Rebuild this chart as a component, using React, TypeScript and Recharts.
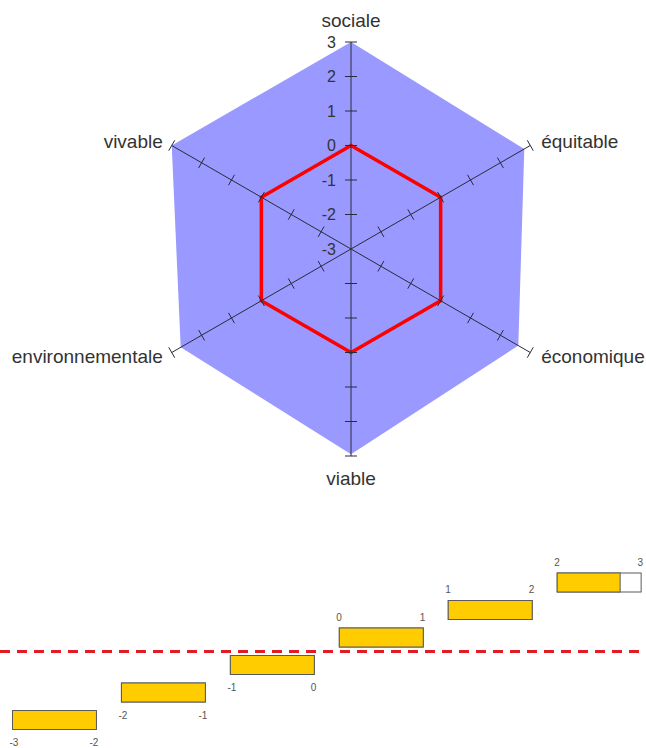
import React from 'react'
import {
  RadarChart,
  Radar,
  PolarAngleAxis,
  PolarRadiusAxis,
  BarChart,
  Bar,
  XAxis,
  YAxis,
  ReferenceLine,
} from 'recharts'

document.body.style.margin = '0'

// radar: the six criteria, clockwise from the top
const criteria = ['sociale', 'équitable', 'économique', 'viable', 'environnementale', 'vivable']
const scores = [3, 2.8, 2.6, 2.95, 2.7, 3]
const threshold = [0, 0, 0, 0, 0, 0]
const radiusTicks = [-3, -2, -1, 0, 1, 2, 3]

// scale steps under the radar
const stepLow = [-3, -2, -1, 0, 1, 2]
const stepHigh = [-2, -1, 0, 1, 2, 3]
const stepFilled = [1, 1, 1, 1, 1, 0.75]

const radarData = criteria.map((c, i) => ({ critere: c, score: scores[i], seuil: threshold[i] }))
const stepData = stepLow.map((lo, i) => ({
  lo,
  hi: stepHigh[i],
  range: [lo, stepHigh[i]],
  filled: stepFilled[i],
}))

const FONT = '"Liberation Sans", Arial, sans-serif'
const CX = 351
const CY = 249
const R = 207

const axisAngles = criteria.map((_, i) => 90 - (360 / criteria.length) * i)

const makeRadiusTick = (angle: number, labelled: boolean) => (props: any) => {
  const { x, y, payload } = props
  const rad = (angle * Math.PI) / 180
  const px = Math.sin(rad) * 6
  const py = Math.cos(rad) * 6
  return (
    <g>
      {payload.value !== -3 && (
        <line x1={x - px} y1={y - py} x2={x + px} y2={y + py} stroke="#2a2a3a" strokeWidth={1} />
      )}
      {labelled && (
        <text
          x={x - 15}
          y={y}
          textAnchor="end"
          dominantBaseline="central"
          fontSize={16}
          fontFamily={FONT}
          fill="#333"
        >
          {payload.value}
        </text>
      )}
    </g>
  )
}

const AngleTick = (props: any) => {
  const { x, y, textAnchor, payload } = props
  let dx = 0
  let dy = 0
  if (textAnchor === 'middle') dy = y < CY ? -14 : 14
  else dx = textAnchor === 'start' ? 4 : -2
  return (
    <text
      x={x + dx}
      y={y + dy}
      textAnchor={textAnchor}
      dominantBaseline="central"
      fontSize={19}
      fontFamily={FONT}
      fill="#333"
    >
      {payload.value}
    </text>
  )
}

const StepShape = (props: any) => {
  const { x, y, width, height, index } = props
  const d = stepData[index]
  const inset = 12.5
  const left = x + inset
  const w = width - 2 * inset
  const below = d.hi <= 0
  const ly = below ? y + height + 13 : y - 11
  const txt = { fontSize: 10, fontFamily: FONT, fill: '#555', dominantBaseline: 'central' as const }
  return (
    <g>
      <rect x={left} y={y} width={w} height={height} fill="#fff" stroke="#5a5a5a" />
      <rect x={left} y={y} width={w * d.filled} height={height} fill="#ffcc00" stroke="#5a5a5a" />
      <text x={left - 3} y={ly} textAnchor="start" {...txt}>
        {d.lo}
      </text>
      <text x={left + w + 2} y={ly} textAnchor="end" {...txt}>
        {d.hi}
      </text>
    </g>
  )
}

export default function App() {
  return (
    <div style={{ position: 'relative', width: 646, height: 748, overflow: 'hidden', background: '#fff' }}>
      <div style={{ position: 'absolute', left: 0, top: 0 }}>
        <RadarChart width={646} height={520} data={radarData} cx={CX} cy={CY} outerRadius={R} startAngle={90} endAngle={-270}>
          <PolarAngleAxis dataKey="critere" tick={<AngleTick />} tickLine={false} axisLine={false} />
          <Radar
            dataKey="score"
            fill="#9999ff"
            fillOpacity={1}
            stroke="none"
            dot={false}
            isAnimationActive={false}
          />
          <Radar
            dataKey="seuil"
            fill="none"
            fillOpacity={0}
            stroke="#ff0000"
            strokeWidth={3.5}
            dot={false}
            isAnimationActive={false}
          />
          {axisAngles.map((a, i) => (
            <PolarRadiusAxis
              key={i}
              radiusAxisId={i}
              angle={a}
              type="number"
              domain={[-3, 3]}
              allowDataOverflow
              ticks={radiusTicks as any}
              tickCount={radiusTicks.length}
              axisLine={{ stroke: '#2a2a3a', strokeWidth: 1 }}
              tick={makeRadiusTick(a, i === 0)}
            />
          ))}
        </RadarChart>
      </div>
      <div style={{ position: 'absolute', left: 0, top: 540 }}>
        <BarChart
          width={646}
          height={208}
          data={stepData}
          layout="vertical"
          barSize={19}
          margin={{ top: 29, right: 0, bottom: 14, left: 0 }}
        >
          <XAxis type="number" domain={[-3, 2.93]} allowDataOverflow hide />
          <YAxis type="category" dataKey="lo" hide reversed />
          <ReferenceLine y={0} position="end" stroke="#e31b23" strokeWidth={3} strokeDasharray="10 7" />
          <Bar dataKey="range" shape={(p: any) => <StepShape {...p} />} isAnimationActive={false} />
        </BarChart>
      </div>
    </div>
  )
}
